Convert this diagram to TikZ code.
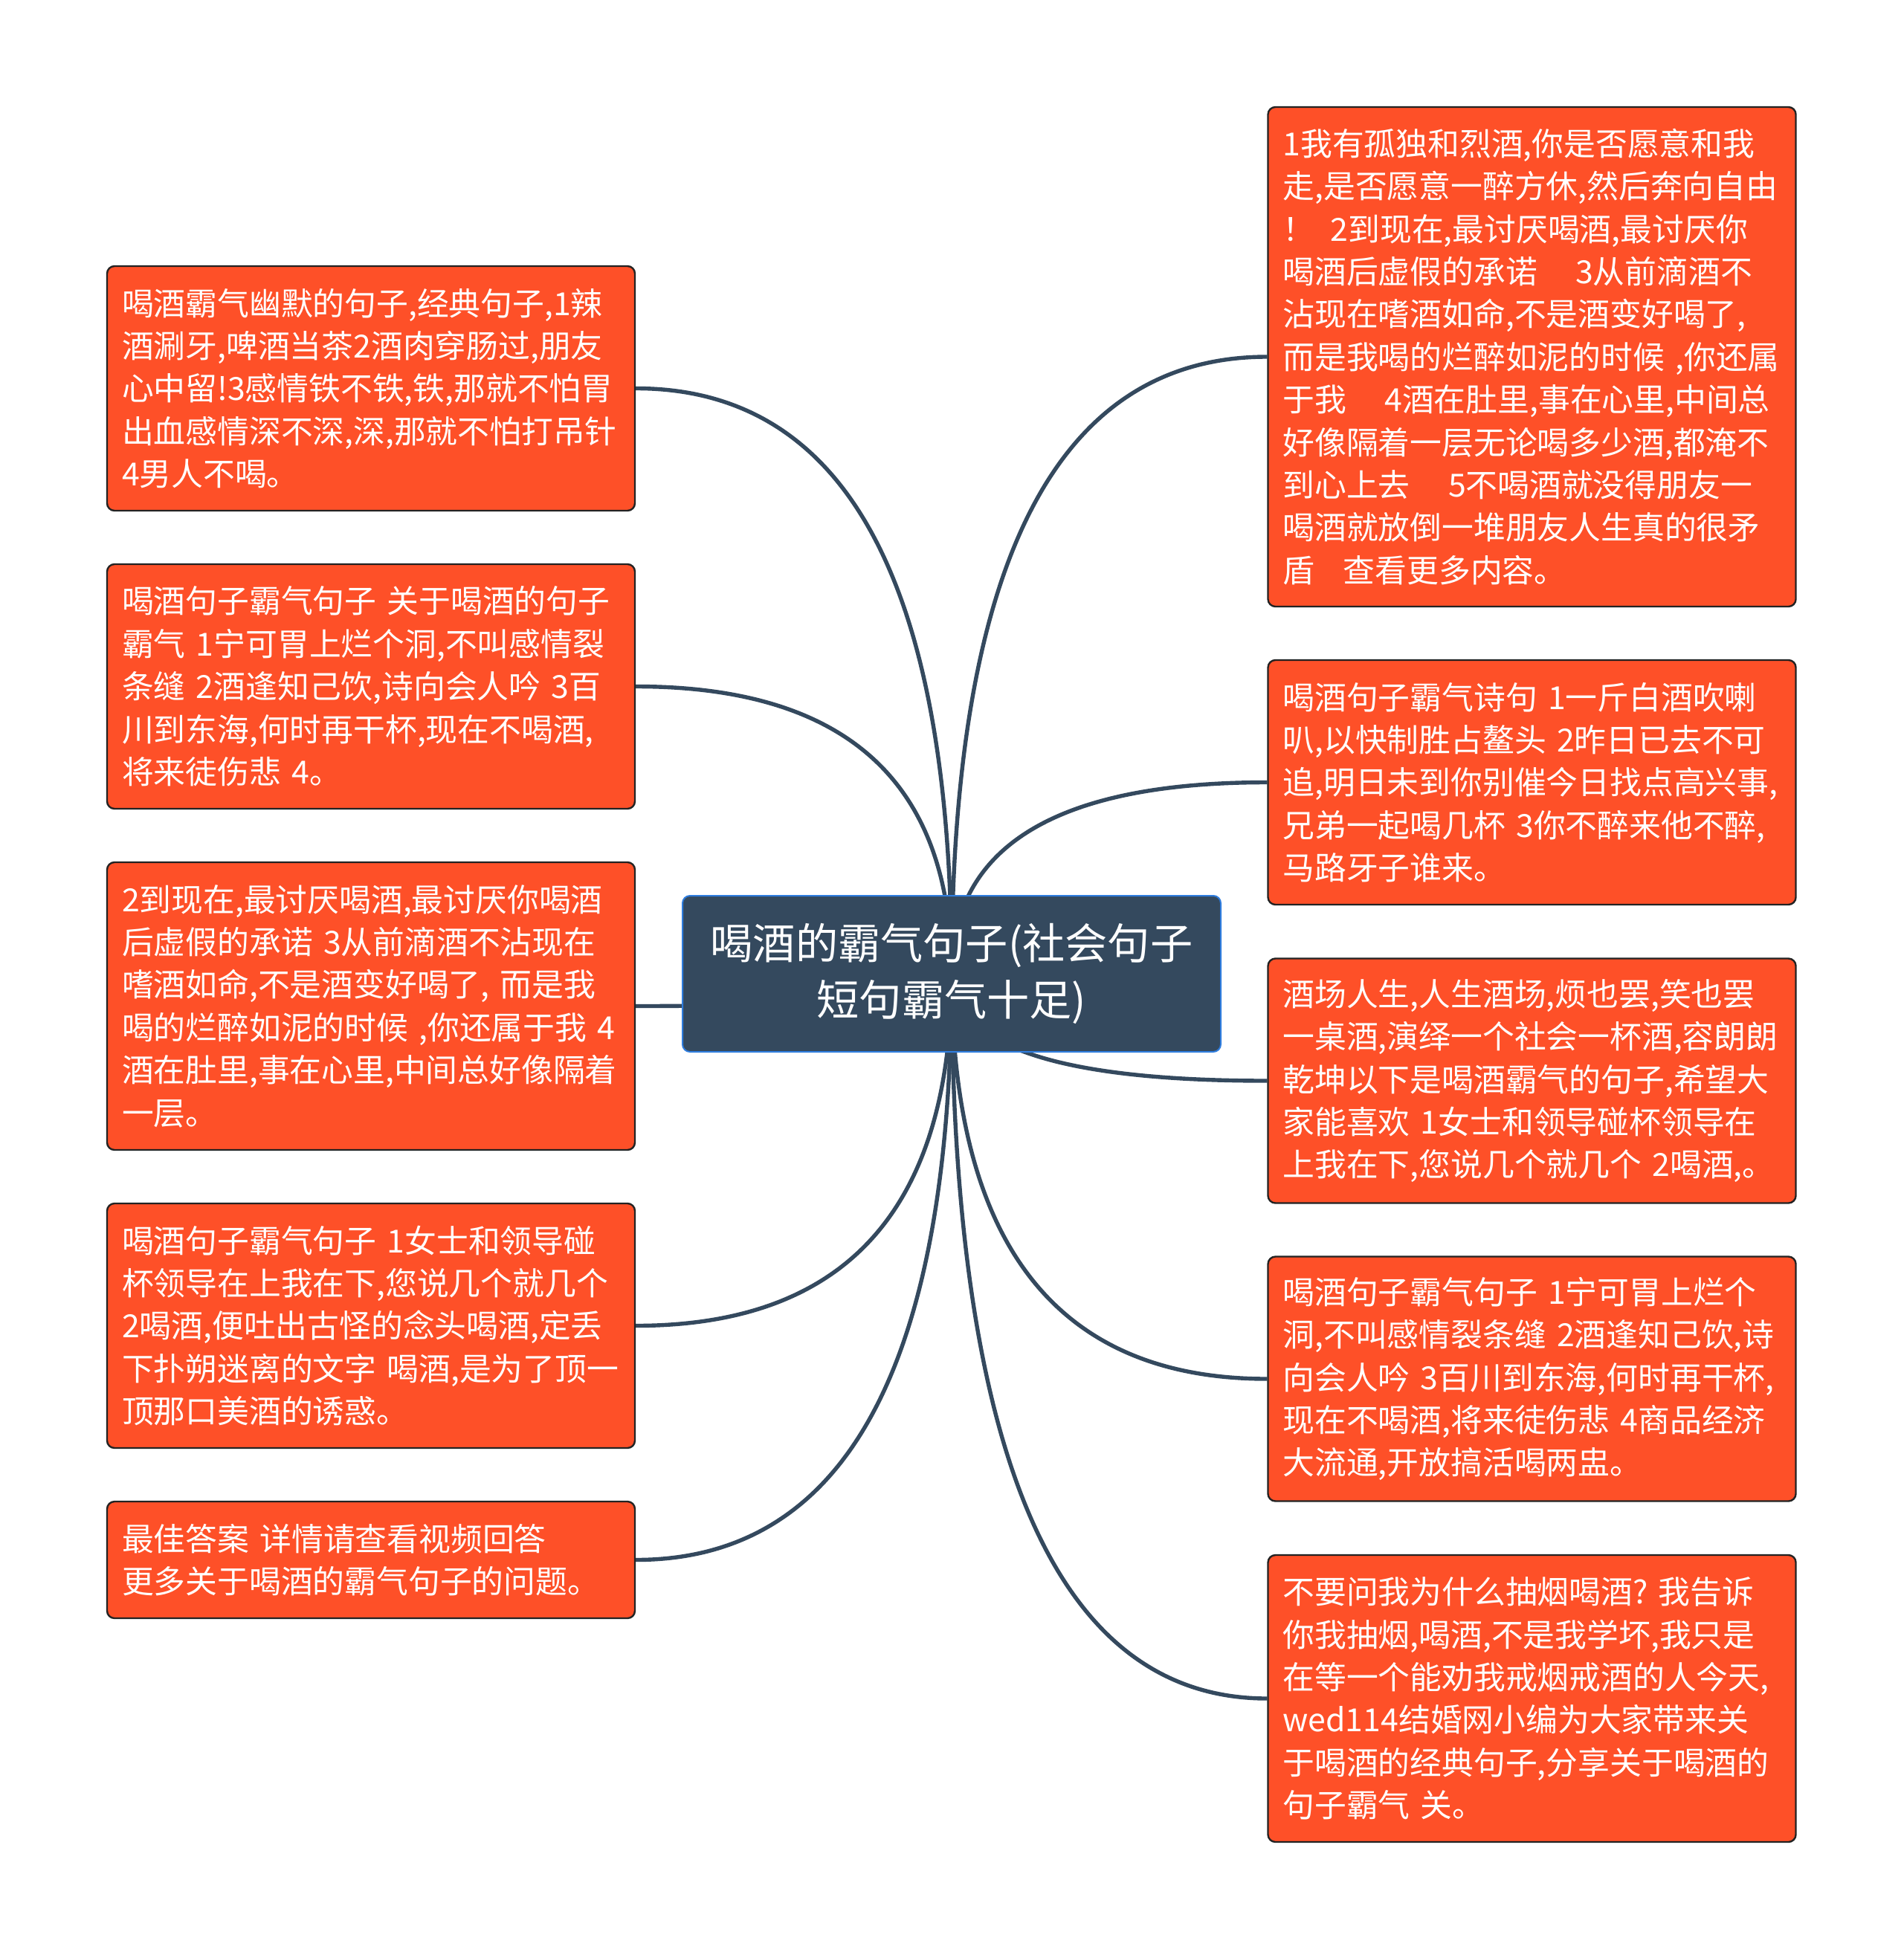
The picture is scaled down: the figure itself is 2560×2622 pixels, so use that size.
\documentclass[tikz,border=0pt]{standalone}
\usepackage{fontspec}
\setmainfont{Noto Sans CJK SC}
\usetikzlibrary{backgrounds,calc}
\definecolor{asphalt}{RGB}{52,73,94}
\definecolor{branch}{RGB}{254,80,40}
\definecolor{rim}{RGB}{35,35,35}
\definecolor{pick}{RGB}{47,125,222}
\newcommand{\gap}[1][1.2em]{\nobreak\hspace{#1}\nobreak}
\tikzset{
  topic/.style={draw=pick, line width=0.5pt, fill=asphalt, rounded corners=2.5pt, text=white,
    align=center, minimum width=181pt, minimum height=52.5pt,
    font=\fontsize{14.3pt}{18.8pt}\selectfont},
  leaf/.style={draw=rim, line width=0.6pt, fill=branch, rounded corners=2.5pt, text=white,
    align=left, text width=167.5pt, inner xsep=5pt, inner ysep=2pt,
    font=\fontsize{10.7pt}{14.35pt}\selectfont},
  link/.style={draw=asphalt, line width=1.35pt}
}

\begin{document}
\begin{tikzpicture}[x=0.25pt, y=-0.25pt]
    \useasboundingbox (0,0) rectangle (2560,2622);

    % 中心主题
    \node[topic] (root) at (1280,1310) {喝酒的霸气句子(社会句子\\短句霸气十足)};

    % 左侧分支 x=499
    \node[leaf, minimum height=82.25pt] (l1) at (499,522.5)
      {喝酒霸气幽默的句子,经典句子,1辣\\酒涮牙,啤酒当茶2酒肉穿肠过,朋友\\心中留!3感情铁不铁,铁,那就不怕胃\\出血感情深不深,深,那就不怕打吊针\\4男人不喝。};
    \node[leaf, minimum height=82.25pt] (l2) at (499,923.5)
      {喝酒句子霸气句子~关于喝酒的句子\\霸气~1宁可胃上烂个洞,不叫感情裂\\条缝~2酒逢知己饮,诗向会人吟~3百\\川到东海,何时再干杯,现在不喝酒,\\将来徒伤悲~4。};
    \node[leaf, minimum height=96.75pt] (l3) at (499,1353.5)
      {2到现在,最讨厌喝酒,最讨厌你喝酒\\后虚假的承诺~3从前滴酒不沾现在\\嗜酒如命,不是酒变好喝了,~而是我\\喝的烂醉如泥的时候~,你还属于我~4\\酒在肚里,事在心里,中间总好像隔着\\一层。};
    \node[leaf, minimum height=82.25pt] (l4) at (499,1783.5)
      {喝酒句子霸气句子~1女士和领导碰\\杯领导在上我在下,您说几个就几个\\2喝酒,便吐出古怪的念头喝酒,定丢\\下扑朔迷离的文字~喝酒,是为了顶一\\顶那口美酒的诱惑。};
    \node[leaf, minimum height=39.25pt] (l5) at (499,2098.5)
      {最佳答案~详情请查看视频回答\\更多关于喝酒的霸气句子的问题。};

    % 右侧分支 x=2060.5
    \node[leaf, minimum height=168pt] (r1) at (2060.5,480)
      {1我有孤独和烈酒,你是否愿意和我\\走,是否愿意一醉方休,然后奔向自由\\！\gap[0.5em]2到现在,最讨厌喝酒,最讨厌你\\喝酒后虚假的承诺\gap 3从前滴酒不\\沾现在嗜酒如命,不是酒变好喝了,\\而是我喝的烂醉如泥的时候~,你还属\\于我\gap 4酒在肚里,事在心里,中间总\\好像隔着一层无论喝多少酒,都淹不\\到心上去\gap 5不喝酒就没得朋友一\\喝酒就放倒一堆朋友人生真的很矛\\盾\gap[0.9em]查看更多内容。};
    \node[leaf, minimum height=82.25pt] (r2) at (2060.5,1052.5)
      {喝酒句子霸气诗句~1一斤白酒吹喇\\叭,以快制胜占鳌头~2昨日已去不可\\追,明日未到你别催今日找点高兴事,\\兄弟一起喝几杯~3你不醉来他不醉,\\马路牙子谁来。};
    \node[leaf, minimum height=82.25pt] (r3) at (2060.5,1454)
      {酒场人生,人生酒场,烦也罢,笑也罢\\一桌酒,演绎一个社会一杯酒,容朗朗\\乾坤以下是喝酒霸气的句子,希望大\\家能喜欢~1女士和领导碰杯领导在\\上我在下,您说几个就几个~2喝酒,。};
    \node[leaf, minimum height=82.25pt] (r4) at (2060.5,1855)
      {喝酒句子霸气句子~1宁可胃上烂个\\洞,不叫感情裂条缝~2酒逢知己饮,诗\\向会人吟~3百川到东海,何时再干杯,\\现在不喝酒,将来徒伤悲~4商品经济\\大流通,开放搞活喝两盅。};
    \node[leaf, minimum height=96.5pt] (r5) at (2060.5,2285)
      {不要问我为什么抽烟喝酒?~我告诉\\你我抽烟,喝酒,不是我学坏,我只是\\在等一个能劝我戒烟戒酒的人今天,\\wed114结婚网小编为大家带来关\\于喝酒的经典句子,分享关于喝酒的\\句子霸气~关。};

    \begin{scope}[on background layer]
      \fill[white] (0,0) rectangle (2560,2622);
      % 连线：从中心点出发，先竖后横
      \foreach \b in {l1,l2,l3,l4,l5}
        \draw[link] (root.center)
          .. controls ($(root.center)!2/3!(root.center |- \b.east)$)
          and ($(\b.east)!2/3!(root.center |- \b.east)$) .. (\b.east);
      \foreach \b in {r1,r2,r3,r4,r5}
        \draw[link] (root.center)
          .. controls ($(root.center)!2/3!(root.center |- \b.west)$)
          and ($(\b.west)!2/3!(root.center |- \b.west)$) .. (\b.west);
    \end{scope}
  \end{tikzpicture}
\end{document}
